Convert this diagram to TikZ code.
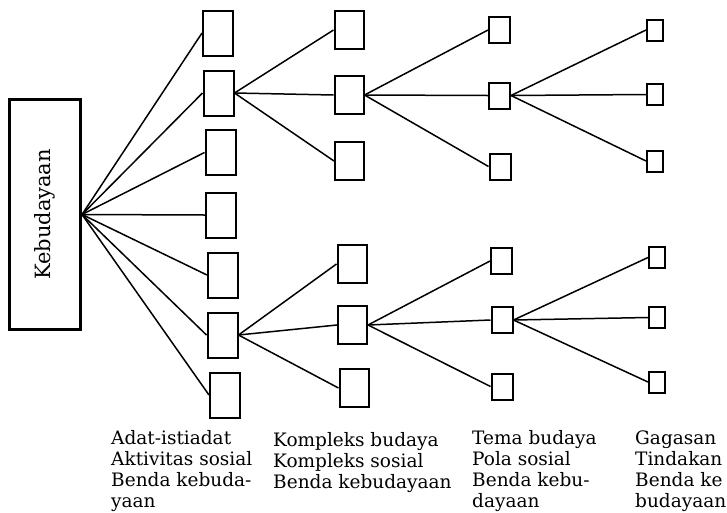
\documentclass[tikz,border=0pt]{standalone}
\usepackage{fontspec}
\setmainfont{DejaVu Serif}
\tikzset{kotak/.style={draw, line width=2pt, inner sep=0pt}}
\tikzset{induk/.style={draw, line width=3pt, inner sep=0pt, minimum width=71pt, minimum height=230pt}}
\tikzset{unsur/.style={kotak, minimum width=30pt, minimum height=45pt}}
\tikzset{kompleks/.style={kotak, minimum width=29pt, minimum height=38pt}}
\tikzset{tema/.style={kotak, minimum width=21pt, minimum height=26pt}}
\tikzset{gagasan/.style={kotak, minimum width=16pt, minimum height=21pt}}
\tikzset{garis/.style={line width=1.5pt}}
\tikzset{ket/.style={anchor=base west, inner sep=0pt, align=left, font=\fontsize{18.5}{20.8}\selectfont}}

\begin{document}
\begin{tikzpicture}[x=1pt, y=-1pt]
	\useasboundingbox (0,0) rectangle (727,512);
	\node[induk] (keb) at (45,214.5) {\rotatebox{90}{\fontsize{21}{24}\selectfont Kebudayaan}};
	% kolom pertama
	\node[unsur] (u1) at (218,33) {};
	\node[unsur] (u2) at (218.5,93) {};
	\node[unsur] (u3) at (220.5,152.5) {};
	\node[unsur] (u4) at (221,215) {};
	\node[unsur] (u5) at (223,275) {};
	\node[unsur] (u6) at (222.5,335) {};
	\node[unsur] (u7) at (225,395) {};
	% kolom kedua
	\node[kompleks] (k1) at (349,30) {};
	\node[kompleks] (k2) at (349,95) {};
	\node[kompleks] (k3) at (349.5,161) {};
	\node[kompleks] (k4) at (352,264) {};
	\node[kompleks] (k5) at (352.5,325) {};
	\node[kompleks] (k6) at (354,388) {};
	% kolom ketiga
	\node[tema] (t1) at (499.5,30) {};
	\node[tema] (t2) at (499.5,95.5) {};
	\node[tema] (t3) at (500,166.5) {};
	\node[tema] (t4) at (501.5,261) {};
	\node[tema] (t5) at (502,320) {};
	\node[tema] (t6) at (502,386.5) {};
	% kolom keempat
	\node[gagasan] (g1) at (655,30) {};
	\node[gagasan] (g2) at (655,94.5) {};
	\node[gagasan] (g3) at (655,161) {};
	\node[gagasan] (g4) at (657,257.5) {};
	\node[gagasan] (g5) at (657,317.5) {};
	\node[gagasan] (g6) at (657,382) {};

	\draw[garis] (keb.east) -- (u1.west);
	\draw[garis] (keb.east) -- (u2.west);
	\draw[garis] (keb.east) -- (u3.west);
	\draw[garis] (keb.east) -- (u4.west);
	\draw[garis] (keb.east) -- (u5.west);
	\draw[garis] (keb.east) -- (u6.west);
	\draw[garis] (keb.east) -- (u7.west);

	\draw[garis] (u2.east) -- (k1.west);
	\draw[garis] (u2.east) -- (k2.west);
	\draw[garis] (u2.east) -- (k3.west);
	\draw[garis] (k2.east) -- (t1.west);
	\draw[garis] (k2.east) -- (t2.west);
	\draw[garis] (k2.east) -- (t3.west);
	\draw[garis] (t2.east) -- (g1.west);
	\draw[garis] (t2.east) -- (g2.west);
	\draw[garis] (t2.east) -- (g3.west);

	\draw[garis] (u6.east) -- (k4.west);
	\draw[garis] (u6.east) -- (k5.west);
	\draw[garis] (u6.east) -- (k6.west);
	\draw[garis] (k5.east) -- (t4.west);
	\draw[garis] (k5.east) -- (t5.west);
	\draw[garis] (k5.east) -- (t6.west);
	\draw[garis] (t5.east) -- (g4.west);
	\draw[garis] (t5.east) -- (g5.west);
	\draw[garis] (t5.east) -- (g6.west);

	% keterangan (anchor pada baris terakhir)
	\node[ket] (ket1) at (111,507) {Adat-istiadat\\Aktivitas sosial\\Benda kebuda-\\yaan};
	\node[ket] (ket2) at (273,488) {Kompleks budaya\\Kompleks sosial\\Benda kebudayaan};
	\node[ket] (ket3) at (472,507) {Tema budaya\\Pola sosial\\Benda kebu-\\dayaan};
	\node[ket] (ket4) at (635,507) {Gagasan\\Tindakan\\Benda ke\\budayaan};
\end{tikzpicture}
\end{document}
